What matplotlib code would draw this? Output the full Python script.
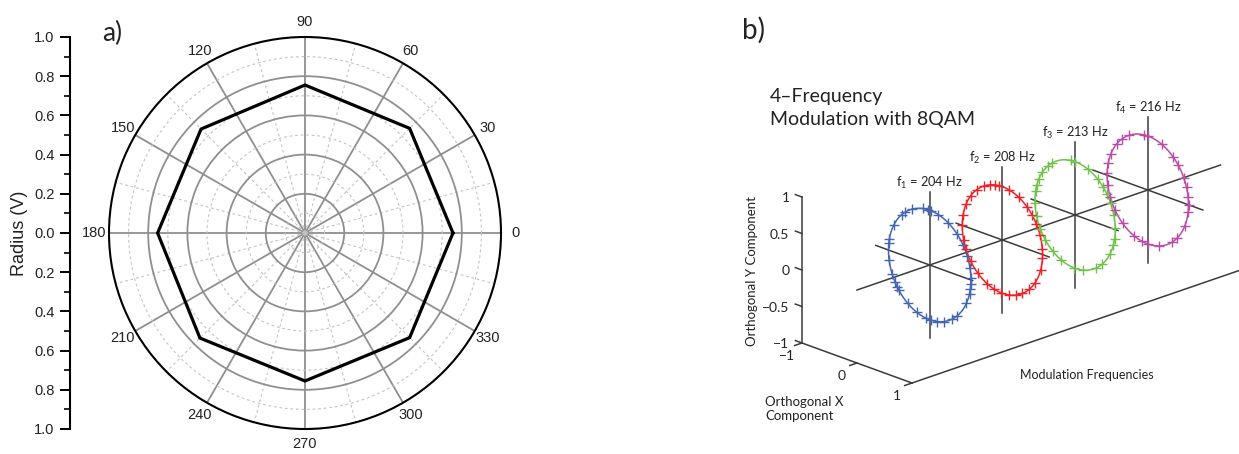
import numpy as np
import matplotlib
matplotlib.use("Agg")
import matplotlib.pyplot as plt
from matplotlib.ticker import FixedLocator, MultipleLocator, FuncFormatter

plt.rcParams["mathtext.fontset"] = "custom"
plt.rcParams["mathtext.rm"] = "Lato"
plt.rcParams["mathtext.it"] = "Lato:italic"

# ---------------- panel a: demodulated radius vs. phase ----------------
trace_theta_deg = [0, 45, 90, 135, 180, 225, 270, 315, 360]
trace_radius = [0.755, 0.755, 0.755, 0.750, 0.752, 0.758, 0.755, 0.755, 0.755]
angle_ticks_deg = list(range(0, 360, 30))
radius_ticks = [-1.0, -0.8, -0.6, -0.4, -0.2, 0.0, 0.2, 0.4, 0.6, 0.8, 1.0]

# ---------------- panel b: four-tone 8QAM constellations ----------------
freq_index = [1, 2, 3, 4]
freq_hz = [204, 208, 213, 216]
fit_radius = [0.75, 0.73, 0.73, 0.74]
series_colors = ["#4465b3", "#ec2227", "#72c14e", "#b94ca7"]
symbols_f1 = [12, 2, 356, 350, 345, 333, 312, 303, 290, 280, 272, 265, 252, 238,
              222, 218, 213, 204, 190, 172, 168, 150, 133, 127, 116, 100, 92, 88,
              78, 63, 48, 36, 24]
symbols_f2 = [130, 118, 108, 100, 95, 80, 66, 52, 42, 32, 20, 6, 356, 342, 325,
              312, 300, 290, 280, 268, 258, 248, 232, 218, 205, 195, 180, 168,
              155, 142]
symbols_f3 = [145, 132, 125, 96, 90, 72, 56, 46, 38, 28, 15, 2, 350, 342, 330,
              312, 302, 282, 268, 250, 236, 222, 210, 196, 183, 170, 162, 155]
symbols_f4 = [140, 130, 118, 96, 90, 70, 52, 42, 28, 18, 8, 0, 352, 335, 316,
              306, 286, 270, 262, 250, 232, 216, 202, 190, 178, 166, 155]
symbol_angles = [symbols_f1, symbols_f2, symbols_f3, symbols_f4]
cross_x_lo = [-0.98, -0.84, -0.80, -1.0]
cross_x_hi = [0.78, 0.85, 0.78, 1.0]
y_ticks_b = [-1, -0.5, 0, 0.5, 1]
x_ticks_b = [-1, 0, 1]
freq_axis_end = 5

W, H = 1239, 454
fig = plt.figure(figsize=(W / 100, H / 100), dpi=100)

# ---------- polar plot ----------
arial = "Liberation Sans"
cx, cy, R = 305, 233, 196
axp = fig.add_axes([(cx - R) / W, (H - cy - R) / H, 2 * R / W, 2 * R / H],
                   projection="polar")
axp.set_ylim(0, 1)
axp.set_xticks(np.deg2rad(angle_ticks_deg))
axp.set_xticklabels([str(a) for a in angle_ticks_deg], fontfamily=arial,
                    fontsize=10.5, color="#222222")
axp.set_xticks(np.deg2rad(np.arange(15, 360, 30)), minor=True)
axp.set_yticks([0.2, 0.4, 0.6, 0.8])
axp.set_yticks([0.1, 0.3, 0.5, 0.7, 0.9], minor=True)
axp.set_yticklabels([])
axp.tick_params(axis="y", which="both", length=0)
axp.tick_params(axis="x", which="both", direction="in", length=6, width=1.1,
                color="black", pad=3.5)
axp.grid(True, which="major", color="#8f8f8f", lw=1.3, ls="-")
axp.grid(True, which="minor", color="#c4c4c4", lw=0.8, ls=(0, (2.5, 2.5)))
axp.spines["polar"].set_linewidth(1.5)
axp.spines["polar"].set_color("black")
axp.plot(np.deg2rad(trace_theta_deg), trace_radius, color="black", lw=2.3,
         solid_joinstyle="miter", zorder=5)

# radial scale on the left
axr = fig.add_axes([70 / W, (H - cy - R) / H, 0.0001, 2 * R / H])
axr.set_ylim(-1, 1)
for s in ["top", "right", "bottom"]:
    axr.spines[s].set_visible(False)
axr.spines["left"].set_linewidth(1.5)
axr.set_xticks([])
axr.yaxis.set_major_locator(FixedLocator(radius_ticks))
axr.yaxis.set_minor_locator(MultipleLocator(0.1))
axr.yaxis.set_major_formatter(FuncFormatter(lambda v, p: f"{abs(v):.1f}"))
axr.tick_params(axis="y", which="major", length=7, width=1.4, pad=4,
                labelsize=10.5)
axr.tick_params(axis="y", which="minor", length=4, width=1.2)
for lab in axr.get_yticklabels():
    lab.set_fontfamily(arial)
    lab.set_color("#222222")
fig.text(19 / W, 1 - cy / H, "Radius (V)", rotation=90, ha="center",
         va="center", fontsize=13, fontfamily=arial, color="#222222")
fig.text(102 / W, 1 - 33 / H, "a)", ha="left", va="center", fontsize=19,
         fontfamily="Lato", color="#222222")

# ---------- oblique 3-D view drawn on a flat canvas ----------
axb = fig.add_axes([0, 0, 1, 1])
axb.set_xlim(0, W)
axb.set_ylim(H, 0)
axb.axis("off")

origin = np.array([857.0, 290.0])      # screen point of (f=0, x=0, y=0)
e_f = np.array([72.7, -25.0])          # one frequency slot
e_x = np.array([55.0, 20.0])           # one unit of X component
e_y = np.array([0.0, -73.0])           # one unit of Y component


def proj(f, x, y):
    f = np.asarray(f, float)
    x = np.asarray(x, float)
    y = np.asarray(y, float)
    px = origin[0] + f * e_f[0] + x * e_x[0] + y * e_y[0]
    py = origin[1] + f * e_f[1] + x * e_x[1] + y * e_y[1]
    return px, py


axis_col = "#3c3c3c"
lw_ax = 1.1
bfont = "Lato"

# box edges: Y axis, X axis, floor frequency axis
axb.plot(*proj([0, 0], [-1, -1], [-1, 1]), color=axis_col, lw=lw_ax)
axb.plot(*proj([0, 0], [-1, 1], [-1, -1]), color=axis_col, lw=lw_ax)
axb.plot(*proj([0, freq_axis_end], [1, 1], [-1, -1]), color=axis_col, lw=lw_ax)

# Y ticks
for yv in y_ticks_b:
    axb.plot(*proj([0, 0], [-1, -1.12], [yv, yv]), color=axis_col, lw=lw_ax)
    lab = f"{yv:g}".replace("-", "\u2212")
    axb.annotate(lab, proj(0, -1, yv), xytext=(-9, -1), textcoords="offset points",
                 ha="right", va="center", fontsize=10, fontfamily=bfont,
                 color="#222222")
# X ticks
for xv in x_ticks_b:
    axb.plot(*proj([0, -0.1], [xv, xv], [-1, -1]), color=axis_col, lw=lw_ax)
    lab = f"{xv:g}".replace("-", "\u2212")
    axb.annotate(lab, proj(0, xv, -1), xytext=(-11, -9), textcoords="offset points",
                 ha="center", va="center", fontsize=10, fontfamily=bfont,
                 color="#222222")

# central frequency axis through all constellation centres
axb.plot(*proj([0, freq_axis_end], [0, 0], [0, 0]), color=axis_col, lw=lw_ax)

theta = np.linspace(0, 2 * np.pi, 361)
for i, f in enumerate(freq_index):
    col = series_colors[i]
    axb.plot(*proj([f, f], [0, 0], [-1, 1]), color=axis_col, lw=lw_ax, zorder=2)
    axb.plot(*proj([f, f], [cross_x_lo[i], cross_x_hi[i]], [0, 0]),
             color=axis_col, lw=lw_ax, zorder=2)
    r = fit_radius[i]
    axb.plot(*proj(f, r * np.cos(theta), r * np.sin(theta)), color=col,
             lw=1.1, zorder=3)
    a = np.deg2rad(symbol_angles[i])
    axb.plot(*proj(f, r * np.cos(a), r * np.sin(a)), ls="none", marker="+",
             ms=7, mew=1.0, color=col, zorder=4)
    axb.annotate(rf"f$_\mathrm{{{f}}}$ = {freq_hz[i]} Hz", proj(f, 0, 1),
                 xytext=(0, 1), textcoords="offset points", ha="center",
                 va="bottom", fontsize=9.2, fontfamily=bfont, color="#222222")

axb.text(770, 88, "4\u2013Frequency\nModulation with 8QAM", ha="left", va="top",
         fontsize=14, fontfamily=bfont, color="#222222", linespacing=1.4)
axb.text(752, 271, "Orthogonal Y Component", rotation=90, ha="center",
         va="center", fontsize=9.5, fontfamily=bfont, color="#222222")
axb.text(765, 409, "Orthogonal X\nComponent", ha="left", va="center",
         fontsize=9.5, fontfamily=bfont, color="#222222", linespacing=1.1)
axb.text(1087, 375, "Modulation Frequencies", ha="center", va="center",
         fontsize=9, fontfamily=bfont, color="#222222")
axb.text(742, 30, "b)", ha="left", va="center", fontsize=20, fontfamily=bfont,
         color="#222222")

fig.savefig("out.png", dpi=100)
